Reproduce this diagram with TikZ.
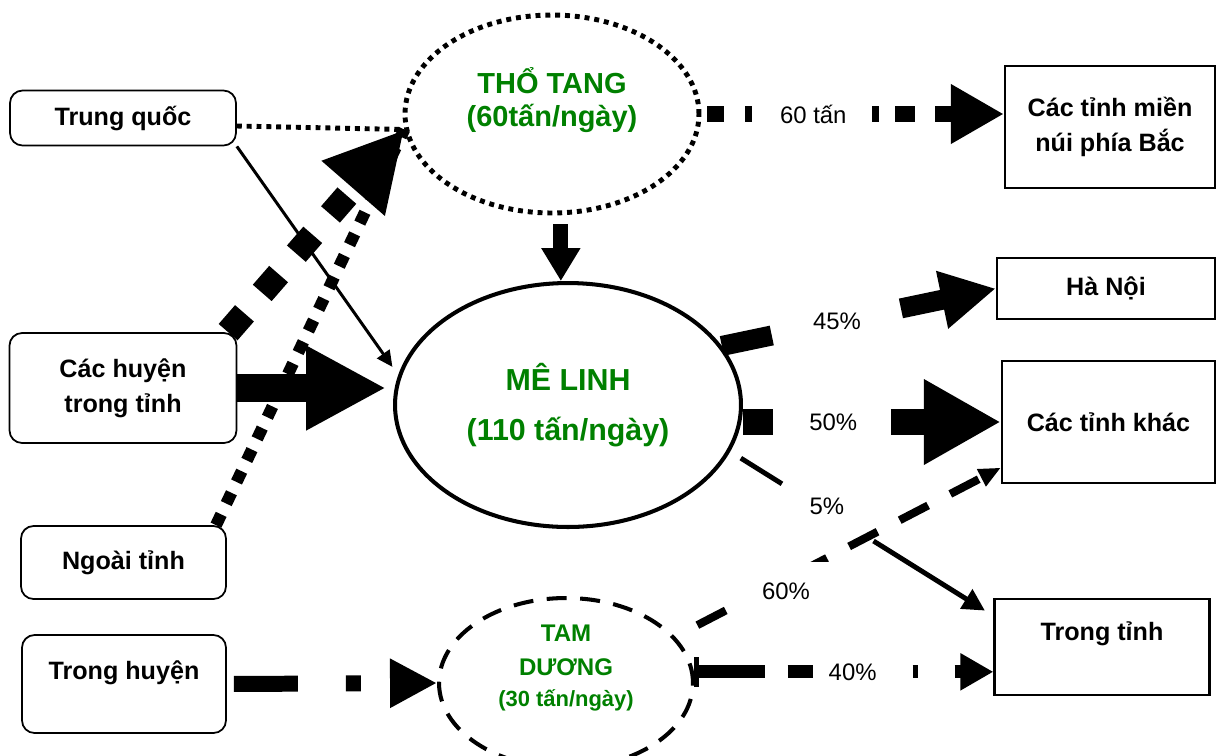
\documentclass[tikz,border=0pt]{standalone}
\usepackage{fontspec}
\setmainfont{Liberation Sans}
\usetikzlibrary{shapes.geometric,arrows.meta}
\definecolor{leaf}{RGB}{0,128,0}
\tikzset{
  src/.style={draw,rounded corners=0.25cm,line width=1pt,align=center,
    font=\fontsize{14.3}{20}\selectfont\bfseries},
  dst/.style={draw,line width=1.3pt,align=center,
    font=\fontsize{14.3}{20}\selectfont\bfseries},
  hub/.style={ellipse,draw,inner sep=0pt,align=center,text=leaf},
  pct/.style={font=\fontsize{13.6}{16}\selectfont},
}
\begin{document}
\begin{tikzpicture}[x=0.02cm,y=-0.02cm]
\useasboundingbox (0,0) rectangle (1216,755);
% nguon
\node[src,minimum width=4.52cm,minimum height=1.1cm] (tq) at (123,118) {Trung quốc};
\node[src,minimum width=4.54cm,minimum height=2.2cm] (ch) at (123,388) {Các huyện\\trong tỉnh};
\node[src,minimum width=4.1cm,minimum height=1.46cm] (nt) at (123.5,562.5) {Ngoài tỉnh};
\node[src,minimum width=4.08cm,minimum height=1.96cm] (th) at (124,684) {Trong huyện\\[-4pt]\mbox{}};
% noi tieu thu
\node[dst,minimum width=4.2cm,minimum height=2.44cm] (mn) at (1110,127) {Các tỉnh miền\\núi phía Bắc};
\node[dst,minimum width=4.36cm,minimum height=1.22cm] (hn) at (1106,288.5) {Hà Nội};
\node[dst,minimum width=4.26cm,minimum height=2.44cm] (tk) at (1108.5,422) {Các tỉnh khác};
\node[dst,minimum width=4.3cm,minimum height=1.92cm] (tt) at (1102,647) {Trong tỉnh\\[-2pt]\mbox{}};
% cho dau moi
\node[hub,line width=2.8pt,dash pattern=on 2.8pt off 2.8pt,minimum width=5.88cm,minimum height=3.96cm,
  font=\fontsize{16.5}{18.8}\selectfont\bfseries] (tg) at (552,114) {THỔ TANG\\(60tấn/ngày)\\\mbox{}};
\node[hub,line width=2.3pt,minimum width=6.92cm,minimum height=4.88cm,
  font=\fontsize{17.3}{28}\selectfont\bfseries] (ml) at (568,405) {MÊ LINH\\(110 tấn/ngày)};
\node[hub,line width=2.3pt,dash pattern=on 0.4cm off 0.27cm,minimum width=5.08cm,minimum height=3.4cm,
  font=\fontsize{13.7}{19.3}\selectfont\bfseries] (td) at (566,683)
  {TAM\\DƯƠNG\\[-1.7pt]{\fontsize{12.5}{15}\selectfont(30 tấn/ngày)}\\\mbox{}};
% vao Tho Tang
\draw[line width=2.8pt,dash pattern=on 2.8pt off 2.8pt] ([yshift=-0.16cm]tq.east) -- (tg.186);
\draw[line width=6.8pt,dash pattern=on 6.8pt off 6.8pt] (nt.22) -- (tg.186);
\draw[line width=14.2pt,dash pattern=on 14.2pt off 15.4pt,-{Triangle[length=1.56cm,width=1.56cm]}] (ch.28) -- (tg.186);
% vao Me Linh
\draw[line width=1.7pt,-{Triangle[length=0.32cm,width=0.3cm]},shorten >=0.2cm] (tq.south east) -- (ml.170);
\draw[line width=15.4pt,-{Triangle[length=1.6cm,width=1.58cm]},shorten >=0.14cm] (ch.east) -- (ch.east -| ml.west);
\draw[line width=8.5pt,-{Triangle[length=0.66cm,width=0.74cm]},shorten <=0.18cm] (tg.275) -- (tg.275 |- ml.north);
% ra
\draw[line width=9.1pt,dash pattern=on 0.34cm off 0.42cm on 0.14cm off 2.4cm on 0.14cm off 0.32cm on 0.4cm off 0.4cm on 0.4cm,
  -{Triangle[length=1.06cm,width=1.12cm]},shorten <=0.12cm] (tg.east) -- (tg.east -| mn.west)
  node[pos=0.37,pct] {60 tấn};
\draw[line width=11.4pt,dash pattern=on 1.02cm off 2.64cm on 2cm,-{Triangle[length=1.1cm,width=1.1cm]}]
  (ml.21) -- (hn.west) node[pos=0.42,pct] {45\%};
\draw[line width=14.8pt,dash pattern=on 0.6cm off 2.36cm on 2cm,-{Triangle[length=1.54cm,width=1.6cm]}]
  (tk.west -| ml.east) -- (tk.west) node[pos=0.35,pct] {50\%};
\draw[line width=2.8pt,dash pattern=on 0.97cm off 2.16cm on 5cm,-{Triangle[length=0.44cm,width=0.44cm]},
  shorten <=0.25cm,shorten >=0.2cm] (ml.-16) -- (tt.164) node[pos=0.367,yshift=0.11cm,pct] {5\%};
\draw[line width=4.6pt,dash pattern=on 0.64cm off 0.5cm,-{Triangle[length=0.44cm,width=0.36cm]},shorten <=0.5cm]
  (td.23) -- (tk.203) node[pos=0.34,yshift=-0.24cm,fill=white,minimum width=1.8cm,minimum height=1.16cm,pct] {60\%};
\draw[line width=9.1pt,dash pattern=on 1.28cm off 0.96cm on 0.3cm off 0.66cm,-{Triangle[length=0.94cm,width=0.92cm]},
  shorten <=0.14cm] (th.east) -- (td.west);
\draw[line width=7.4pt,dash pattern=on 1.34cm off 0.46cm on 0.5cm off 2cm on 0.1cm off 0.74cm on 0.3cm,
  {Bar[width=0.6cm,line width=0.1cm]}-{Triangle[length=0.66cm,width=0.7cm]}]
  (td.5) -- (td.5 -| tt.west) node[pos=0.53,pct] {40\%};
\end{tikzpicture}
\end{document}
